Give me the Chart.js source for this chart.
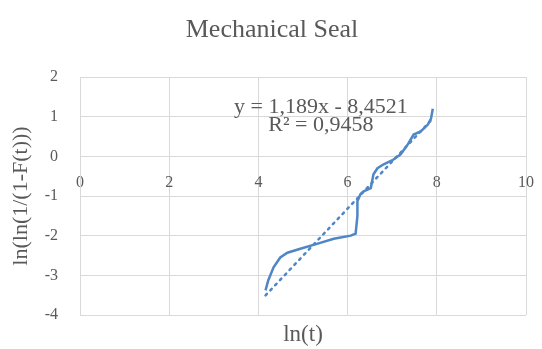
<!DOCTYPE html>
<html>
<head>
<meta charset="utf-8">
<script src="https://cdn.jsdelivr.net/npm/chart.js@4.4.0/dist/chart.umd.min.js"></script>
<style>
  html, body { margin: 0; padding: 0; background: #fff; }
  #wrap { width: 542px; height: 349px; }
</style>
</head>
<body>
<div id="wrap"><canvas id="sealChart" width="542" height="349"></canvas></div>
<script>
// ln(t) and ln(ln(1/(1-F(t))))
const lnT = [4.16, 4.22, 4.34, 4.49, 4.65, 4.94, 5.33, 5.69, 6.07, 6.18, 6.22, 6.22, 6.29, 6.36, 6.52, 6.58, 6.67, 6.81, 7.03, 7.19, 7.35, 7.48, 7.64, 7.80, 7.87, 7.91];
const lnLnF = [-3.38, -3.13, -2.80, -2.55, -2.43, -2.33, -2.20, -2.08, -2.00, -1.95, -1.50, -1.13, -0.95, -0.88, -0.80, -0.45, -0.30, -0.20, -0.08, 0.05, 0.30, 0.55, 0.63, 0.80, 0.95, 1.20];

// linear trendline as printed on the chart
const slope = 1.189;
const intercept = -8.4521;
const trendX = [4.16, 7.91];
const eqLabels = ['y = 1,189x - 8,4521', 'R\u00b2 = 0,9458'];

const xTicks = [0, 2, 4, 6, 8, 10];
const yTicks = [-4, -3, -2, -1, 0, 1, 2];

const FONT = '"Liberation Serif", "Times New Roman", serif';
const TEXT = '#595959';

const seriesPts = lnT.map((x, i) => ({ x: x, y: lnLnF[i] }));
const trendPts = trendX.map(x => ({ x: x, y: slope * x + intercept }));

// title, equation box and x-axis title
const extraText = {
  id: 'extraText',
  afterDraw(chart) {
    const { ctx, chartArea, scales } = chart;
    ctx.save();
    ctx.fillStyle = TEXT;
    ctx.textAlign = 'center';
    ctx.textBaseline = 'alphabetic';
    ctx.font = '26px ' + FONT;
    ctx.fillText('Mechanical Seal', 272, 37);
    ctx.textBaseline = 'middle';
    ctx.font = '22px ' + FONT;
    const cx = scales.x.getPixelForValue(5.4);
    ctx.fillText(eqLabels[0], cx, scales.y.getPixelForValue(1.25));
    ctx.fillText(eqLabels[1], cx, scales.y.getPixelForValue(0.78));
    ctx.font = '23px ' + FONT;
    ctx.fillText('ln(t)', (chartArea.left + chartArea.right) / 2, chartArea.bottom + 20);
    ctx.restore();
  }
};

new Chart(document.getElementById('sealChart'), {
  type: 'scatter',
  data: {
    datasets: [
      {
        data: seriesPts,
        showLine: true,
        borderColor: '#4f86c6',
        borderWidth: 2.5,
        pointRadius: 0,
        tension: 0
      },
      {
        data: trendPts,
        showLine: true,
        borderColor: '#4f86c6',
        borderWidth: 2.5,
        borderDash: [2, 5],
        borderCapStyle: 'round',
        pointRadius: 0
      }
    ]
  },
  options: {
    responsive: false,
    animation: false,
    layout: { padding: { left: 0, right: 16, top: 77, bottom: 34 } },
    plugins: {
      legend: { display: false },
      tooltip: { enabled: false },
      title: { display: false }
    },
    scales: {
      x: {
        type: 'linear',
        min: 0, max: 10,
        position: { y: 0 },
        afterBuildTicks: axis => { axis.ticks = xTicks.map(v => ({ value: v })); },
        afterFit: axis => { axis.paddingLeft = 0; axis.paddingRight = 0; },
        grid: { color: '#d9d9d9', drawTicks: false },
        border: { color: '#d9d9d9' },
        ticks: { color: TEXT, font: { family: FONT, size: 16 }, padding: 17 }
      },
      y: {
        type: 'linear',
        min: -4, max: 2,
        afterBuildTicks: axis => { axis.ticks = yTicks.map(v => ({ value: v })); },
        afterFit: axis => { axis.width = 80; axis.paddingTop = 0; axis.paddingBottom = 0; },
        grid: { color: '#d9d9d9', drawTicks: false },
        border: { color: '#d9d9d9' },
        ticks: { color: TEXT, font: { family: FONT, size: 16 }, padding: 22 },
        title: {
          display: true,
          text: 'ln(ln(1/(1-F(t)))',
          color: TEXT,
          font: { family: FONT, size: 22 },
          padding: { top: 8, bottom: 0 }
        }
      }
    }
  },
  plugins: [extraText]
});
</script>
</body>
</html>
